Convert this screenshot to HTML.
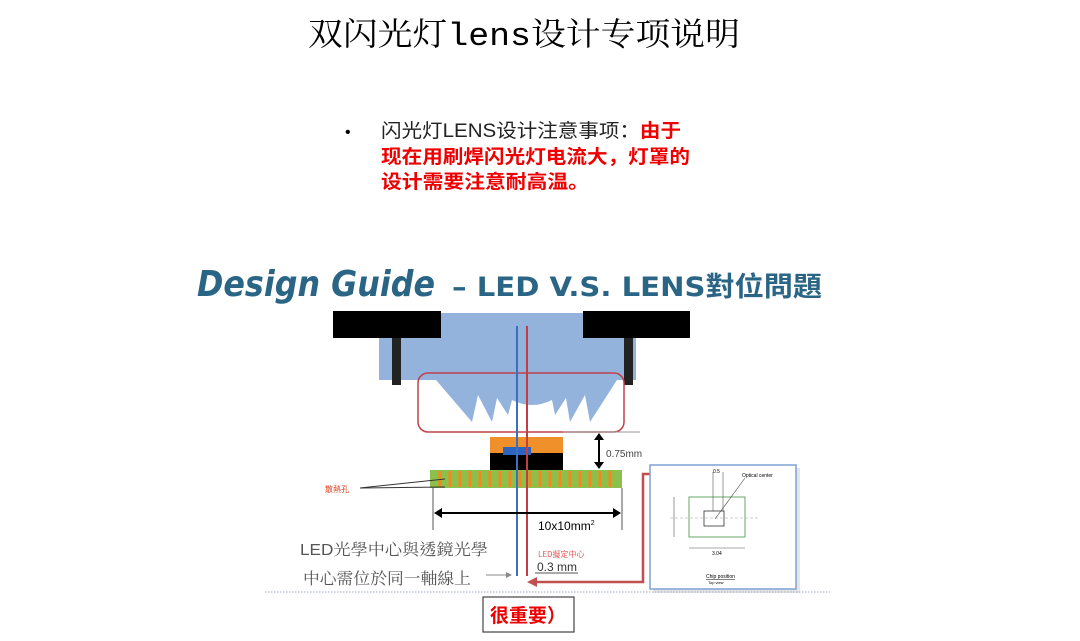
<!DOCTYPE html>
<html><head><meta charset="utf-8"><style>
body{margin:0;background:#fff;width:1080px;height:641px;overflow:hidden;}
svg{display:block}
</style></head><body>
<svg width="1080" height="641" viewBox="0 0 1080 641" xmlns="http://www.w3.org/2000/svg">
<text x="308" y="45" font-family="'Liberation Mono','Noto Serif CJK SC',serif" font-size="32" fill="#000" textLength="432" lengthAdjust="spacingAndGlyphs">双闪光灯lens设计专项说明</text>
<text x="345" y="137" font-family="'Liberation Sans',sans-serif" font-size="16">•</text>
<g font-family="'Liberation Sans','Noto Sans CJK SC',sans-serif" font-size="19">
<text x="381" y="137" fill="#222" textLength="300" lengthAdjust="spacingAndGlyphs">闪光灯LENS设计注意事项：<tspan fill="#e00" font-weight="bold">由于</tspan></text>
<text x="381" y="163" fill="#e00" font-weight="bold" textLength="309" lengthAdjust="spacingAndGlyphs">现在用刷焊闪光灯电流大，灯罩的</text>
<text x="381" y="188" fill="#e00" font-weight="bold" textLength="208" lengthAdjust="spacingAndGlyphs">设计需要注意耐高温。</text>
</g>
<text x="197" y="296" font-family="'DejaVu Sans',sans-serif" font-style="italic" font-weight="bold" font-size="36" fill="#2b6585" textLength="238" lengthAdjust="spacingAndGlyphs">Design Guide</text>
<text x="452" y="296" font-family="'DejaVu Sans','Noto Sans CJK TC',sans-serif" font-weight="bold" font-size="27" fill="#2b6585" textLength="370" lengthAdjust="spacingAndGlyphs">– LED V.S. LENS對位問題</text>
<path d="M379 313 H636 V380 H617 L590 422 L585 395 L570 422 L566 398 L555 415 L552 400 Q532 410 512 400 L508 415 L497 398 L492 422 L478 395 L472 422 L436 380 H379 Z" fill="#94b3dc"/>
<rect x="333" y="311" width="108" height="27" fill="#000"/>
<rect x="583" y="311" width="107" height="27" fill="#000"/>
<rect x="392" y="338" width="9" height="47" fill="#222"/>
<rect x="624" y="338" width="9" height="47" fill="#222"/>
<rect x="418" y="373" width="206" height="59" rx="10" fill="none" stroke="#c0404a" stroke-width="1.5"/>
<rect x="490" y="437" width="73" height="16" fill="#f0902a"/>
<rect x="490" y="453" width="73" height="17" fill="#000"/>
<rect x="503" y="447" width="28" height="8" fill="#2c64c0"/>
<rect x="430" y="470" width="192" height="18" fill="#8cc04a"/>
<g stroke="#f08a20" stroke-width="3">
<line x1="440" y1="471" x2="440" y2="487"/><line x1="450" y1="471" x2="450" y2="487"/><line x1="460" y1="471" x2="460" y2="487"/><line x1="470" y1="471" x2="470" y2="487"/><line x1="480" y1="471" x2="480" y2="487"/><line x1="490" y1="471" x2="490" y2="487"/><line x1="500" y1="471" x2="500" y2="487"/><line x1="510" y1="471" x2="510" y2="487"/><line x1="520" y1="471" x2="520" y2="487"/><line x1="530" y1="471" x2="530" y2="487"/><line x1="540" y1="471" x2="540" y2="487"/><line x1="550" y1="471" x2="550" y2="487"/><line x1="560" y1="471" x2="560" y2="487"/><line x1="570" y1="471" x2="570" y2="487"/><line x1="580" y1="471" x2="580" y2="487"/><line x1="590" y1="471" x2="590" y2="487"/><line x1="600" y1="471" x2="600" y2="487"/><line x1="610" y1="471" x2="610" y2="487"/>
</g>
<line x1="517" y1="326" x2="517" y2="576" stroke="#3a70c0" stroke-width="2"/>
<line x1="527" y1="326" x2="527" y2="576" stroke="#c04040" stroke-width="2"/>
<line x1="563" y1="432" x2="640" y2="432" stroke="#999" stroke-width="1"/>
<line x1="599" y1="437" x2="599" y2="464" stroke="#000" stroke-width="2"/>
<path d="M594 440 L599 433 L604 440 Z M594 462 L599 469 L604 462 Z" fill="#000"/>
<text x="606" y="457" font-family="'Liberation Sans',sans-serif" font-size="10" fill="#444">0.75mm</text>
<text x="325" y="492" font-family="'Noto Sans CJK TC',sans-serif" font-size="8" fill="#e04020">散熱孔</text>
<line x1="360" y1="488" x2="445" y2="479" stroke="#333"/><line x1="360" y1="488" x2="445" y2="487" stroke="#333"/>
<line x1="433" y1="488" x2="433" y2="530" stroke="#555"/>
<line x1="622" y1="488" x2="622" y2="530" stroke="#555"/>
<line x1="438" y1="513" x2="617" y2="513" stroke="#000" stroke-width="2"/>
<path d="M434 513 L442 508 L442 518 Z M621 513 L613 508 L613 518 Z" fill="#000"/>
<text x="538" y="530" font-family="'Liberation Sans',sans-serif" font-size="12" fill="#000">10x10mm<tspan font-size="7" dy="-5">2</tspan></text>
<text x="300" y="555" font-family="'Liberation Sans','Noto Serif CJK TC',serif" font-size="16" fill="#555" textLength="188" lengthAdjust="spacingAndGlyphs">LED光學中心與透鏡光學</text>
<text x="303" y="584" font-family="'Noto Serif CJK TC',serif" font-size="16" fill="#555" textLength="168" lengthAdjust="spacingAndGlyphs">中心需位於同一軸線上</text>
<line x1="486" y1="575" x2="510" y2="575" stroke="#888"/><path d="M512 575 L506 572 L506 578 Z" fill="#888"/>
<text x="538" y="557" font-family="'Noto Sans CJK TC',sans-serif" font-size="8" fill="#e06060">LED擬定中心</text>
<text x="537" y="571" font-family="'Liberation Sans',sans-serif" font-size="12" fill="#333">0.3 mm</text>
<line x1="535" y1="573" x2="578" y2="573" stroke="#555"/>
<path d="M534 582 H643 V474 H670" fill="none" stroke="#c05050" stroke-width="2.5"/>
<path d="M527 582 L537 577 L537 587 Z M677 474 L668 469 L668 479 Z" fill="#c05050"/>
<rect x="653" y="468" width="147" height="125" fill="#ccc" opacity="0.5"/>
<rect x="650" y="465" width="146" height="124" fill="#fff" stroke="#7fa2d2" stroke-width="1.5"/>
<rect x="689" y="497" width="56" height="40" fill="none" stroke="#6a6"/>
<rect x="704" y="511" width="20" height="15" fill="none" stroke="#333" stroke-width="0.8"/>
<line x1="713" y1="472" x2="713" y2="511" stroke="#555" stroke-width="0.6"/><line x1="723" y1="472" x2="723" y2="511" stroke="#555" stroke-width="0.6"/>
<line x1="715" y1="519" x2="745" y2="478" stroke="#444" stroke-width="0.6"/>
<line x1="670" y1="518" x2="760" y2="518" stroke="#999" stroke-width="0.5" stroke-dasharray="3,2"/>
<line x1="674" y1="497" x2="674" y2="537" stroke="#555" stroke-width="0.6"/>
<line x1="689" y1="548" x2="745" y2="548" stroke="#555" stroke-width="0.6"/>
<text x="713" y="473" font-size="5" font-family="'Liberation Sans',sans-serif">0.5</text>
<text x="742" y="477" font-size="5" font-family="'Liberation Sans',sans-serif">Optical center</text>
<text x="712" y="555" font-size="5" font-family="'Liberation Sans',sans-serif">3.04</text>
<text x="706" y="578" font-size="5" font-family="'Liberation Sans',sans-serif" text-decoration="underline">Chip position</text>
<text x="708" y="584" font-size="4" font-family="'Liberation Sans',sans-serif">Top view</text>
<line x1="265" y1="592" x2="830" y2="592" stroke="#9ab" stroke-width="1" stroke-dasharray="1.5,1.5"/>
<rect x="483" y="597" width="91" height="35" fill="#fff" stroke="#444" stroke-width="1.2"/>
<text x="528" y="622" text-anchor="middle" font-family="'Noto Sans CJK SC',sans-serif" font-weight="bold" font-size="19" fill="#e00">很重要）</text>
</svg>
</body></html>
